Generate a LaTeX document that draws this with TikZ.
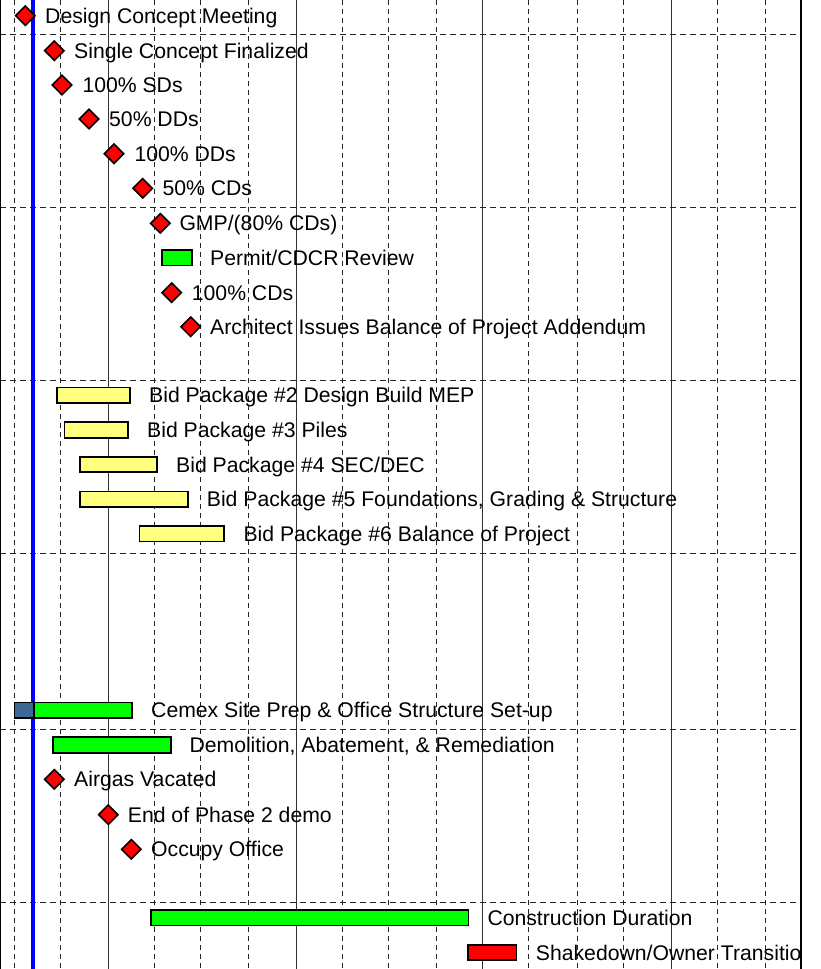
\documentclass[tikz,border=0pt]{standalone}
\usepackage{fontspec}
\setmainfont{Liberation Sans}
\usetikzlibrary{shapes.geometric}
\definecolor{gGreen}{RGB}{0,255,0}
\definecolor{gRed}{RGB}{255,0,0}
\definecolor{gYellow}{RGB}{255,255,128}
\definecolor{gSteel}{RGB}{60,104,148}
\definecolor{gBlue}{RGB}{0,0,255}
\tikzset{
 ms/.style={diamond, draw=black, fill=gRed, line width=1.6pt, minimum width=20pt, minimum height=20pt, inner sep=0pt},
 lbl/.style={anchor=base west, inner sep=0pt, font=\fontsize{21.2}{25}\selectfont},
 gbarbox/.style={draw=black, line width=1.7pt, minimum height=15.5pt, inner sep=0pt, anchor=west},
 vdash/.style={line width=1pt, dash pattern=on 5pt off 4pt, black!85},
 vsolid/.style={line width=0.8pt, black!80},
 hdash/.style={line width=1pt, dash pattern=on 6pt off 4pt, black!85},
}
\newcommand{\gmilestone}[5]{%
 \node[ms] (#1d) at (#2,#3) {};
 \node[lbl] (#1t) at (#4,{#3+7.5}) {#5};}
\newcommand{\gbar}[7]{%
 \node[gbarbox, fill=#5, minimum width={#3-#2}] (#1b) at (#2,#4) {};
 \node[lbl] (#1t) at (#6,{#4+7.5}) {#7};}
\begin{document}
\begin{tikzpicture}[x=1pt,y=-1pt]
\useasboundingbox (0,0) rectangle (820,969);
% grid
\foreach \x in {14,60,154,200,248,342,388,436,528,577,623,717,765}
  \draw[vdash] (\x,0) -- (\x,969);
\foreach \x in {108,296,482,671}
  \draw[vsolid] (\x,0) -- (\x,969);
\foreach \y in {34,207,380,553,729,902}
  \draw[hdash] (0,\y) -- (801,\y);
\draw[line width=1pt] (0.5,0) -- (0.5,969);
% today line
\draw[gBlue, line width=4pt] (33,0) -- (33,969);
\begin{scope}
\clip (0,0) rectangle (800,969);
\gmilestone{dcm}{25.3}{15.7}{45}{Design Concept Meeting}
\gmilestone{scf}{54.3}{50.7}{74}{Single Concept Finalized}
\gmilestone{sd}{62}{85}{82.3}{100\% SDs}
\gmilestone{dd50}{89}{119}{109}{50\% DDs}
\gmilestone{dd100}{114}{153.7}{134.3}{100\% DDs}
\gmilestone{cd50}{142.7}{188.3}{162.3}{50\% CDs}
\gmilestone{gmp}{160.3}{223.3}{179.3}{GMP/(80\% CDs)}
\gbar{permit}{161.3}{191}{257.8}{gGreen}{210}{Permit/CDCR Review}
\gmilestone{cd100}{171.7}{292.7}{191.7}{100\% CDs}
\gmilestone{arch}{190.7}{326.7}{210}{Architect Issues Balance of Project Addendum}
\gbar{bpa}{56}{129.3}{395.3}{gYellow}{149}{Bid Package \#2 Design Build MEP}
\gbar{bpb}{63.7}{127.3}{430}{gYellow}{147}{Bid Package \#3 Piles}
\gbar{bpc}{79.3}{156.3}{464.5}{gYellow}{176}{Bid Package \#4 SEC/DEC}
\gbar{bpd}{79.3}{187}{499.3}{gYellow}{206.7}{Bid Package \#5 Foundations, Grading \& Structure}
\gbar{bpe}{138.7}{223.3}{533.8}{gYellow}{243.3}{Bid Package \#6 Balance of Project}
\node[gbarbox, fill=gSteel, minimum width=19.6pt] (cemexdone) at (13.7,710.3) {};
\gbar{cemex}{33.3}{131.3}{710.3}{gGreen}{151}{Cemex Site Prep \& Office Structure Set-up}
\gbar{demo}{52.3}{170}{745}{gGreen}{189.3}{Demolition, Abatement, \& Remediation}
\gmilestone{airgas}{54.3}{779.3}{74}{Airgas Vacated}
\gmilestone{phase}{108.3}{814.7}{127.7}{End of Phase 2 demo}
\gmilestone{occupy}{131.3}{849.3}{151}{Occupy Office}
\gbar{constr}{150}{467.7}{917.8}{gGreen}{487.3}{Construction Duration}
\gbar{shake}{467}{515.7}{952.5}{gRed}{535.7}{Shakedown/Owner Transition}
\end{scope}
\draw[line width=2.4pt] (801,0) -- (801,969);
\end{tikzpicture}
\end{document}
